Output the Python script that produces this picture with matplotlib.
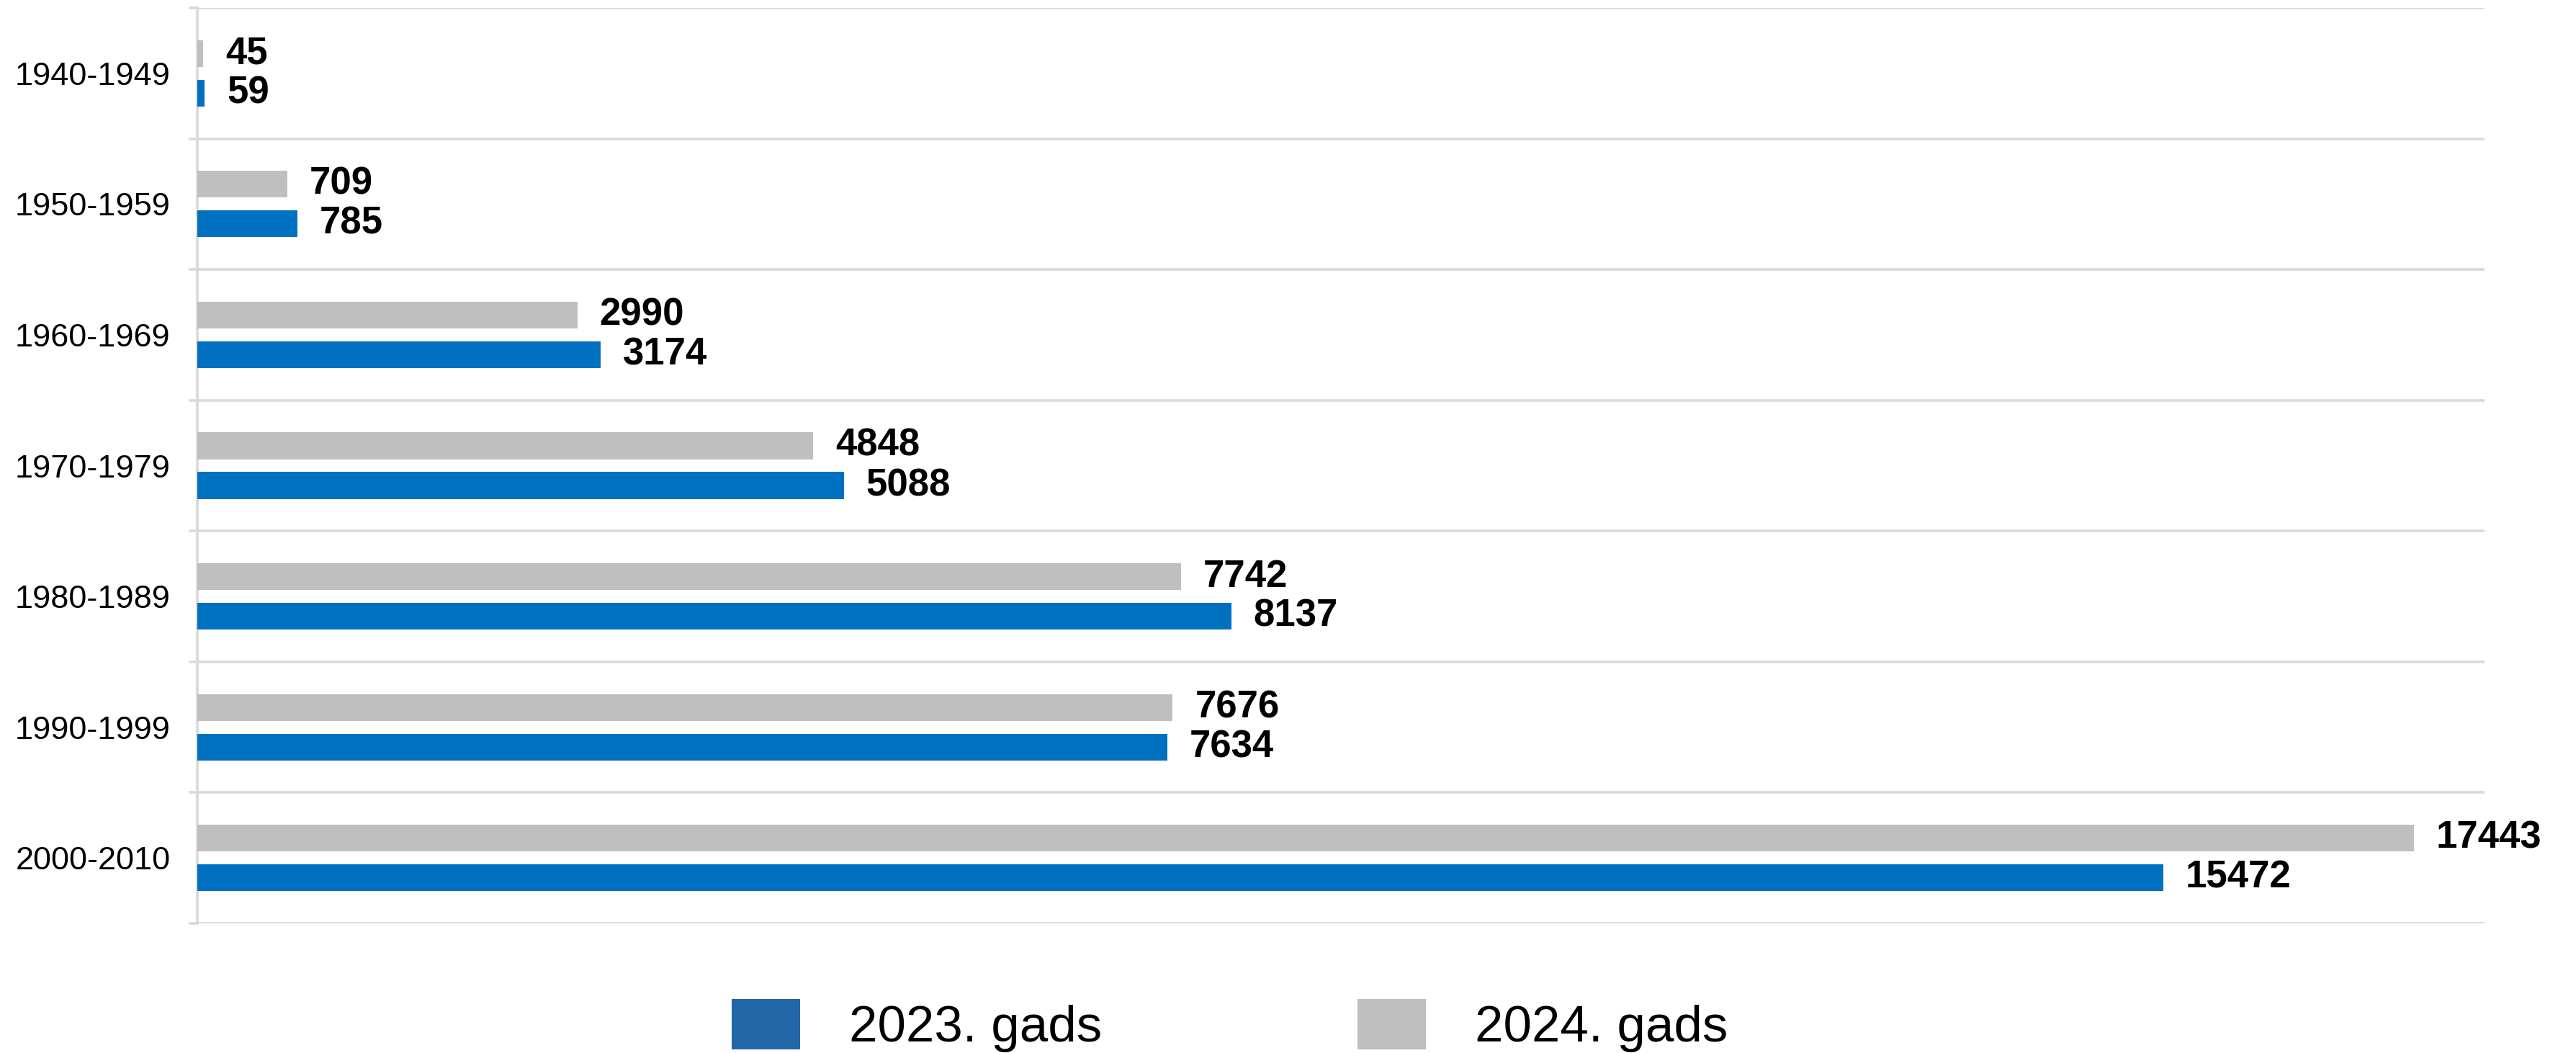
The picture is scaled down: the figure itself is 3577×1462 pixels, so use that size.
import matplotlib
matplotlib.use("Agg")
import matplotlib.pyplot as plt
from matplotlib.patches import Patch
import numpy as np

categories = ["1940-1949", "1950-1959", "1960-1969", "1970-1979", "1980-1989", "1990-1999", "2000-2010"]
values_2023 = [59, 785, 3174, 5088, 8137, 7634, 15472]
values_2024 = [45, 709, 2990, 4848, 7742, 7676, 17443]
series_labels = ["2023. gads", "2024. gads"]

plt.rcParams['font.family'] = ['Liberation Sans', 'DejaVu Sans']

W, H, DPI = 3577, 1462, 100
fig = plt.figure(figsize=(W / DPI, H / DPI), dpi=DPI)
fig.patch.set_facecolor('white')

left, right_px, top_px, bottom_px = 274, 3450, 11, 1282
ax = fig.add_axes([left / W, 1 - bottom_px / H, (right_px - left) / W, (bottom_px - top_px) / H])

blue = '#0070C0'
gray = '#BFBFBF'
grid_c = '#D9D9D9'

y = np.arange(len(categories))
h = 0.204
off = 0.1515
b24 = ax.barh(y - off, values_2024, height=h, color=gray, zorder=3)
b23 = ax.barh(y + off, values_2023, height=h, color=blue, zorder=3)

for rect, v in zip(b24, values_2024):
    ax.annotate(f"{v}", (rect.get_width(), rect.get_y() + rect.get_height() / 2),
                xytext=(22.3, 0), textcoords='offset points', ha='left', va='center',
                fontsize=38, fontweight='bold', color='black')
for rect, v in zip(b23, values_2023):
    ax.annotate(f"{v}", (rect.get_width(), rect.get_y() + rect.get_height() / 2),
                xytext=(22.3, 0), textcoords='offset points', ha='left', va='center',
                fontsize=38, fontweight='bold', color='black')

ax.set_xlim(0, 18000)
ax.set_ylim(len(categories) - 0.5, -0.5)
ax.set_yticks(y)
ax.set_yticklabels(categories, fontsize=32.5)
ax.tick_params(axis='y', which='major', length=0, pad=27)
ax.set_yticks(np.arange(-0.5, len(categories), 1.0), minor=True)
ax.tick_params(axis='y', which='minor', length=9, width=2.6, color=grid_c, direction='out')
ax.grid(axis='y', which='minor', color=grid_c, linewidth=2.6, zorder=0)
ax.grid(axis='y', which='major', visible=False)
ax.set_xticks([])

for s in ['top', 'right', 'bottom']:
    ax.spines[s].set_visible(False)
ax.spines['left'].set_color(grid_c)
ax.spines['left'].set_linewidth(2.6)

handles = [Patch(facecolor='#2166A6', edgecolor='none'), Patch(facecolor=gray, edgecolor='none')]
leg = fig.legend(handles, series_labels, loc='center', bbox_to_anchor=(0.4774, 1 - 1424 / H),
                 ncol=2, frameon=False, fontsize=51, handlelength=1.34, handleheight=1.15,
                 handletextpad=0.96, columnspacing=5.0)

fig.savefig("out.png", dpi=DPI, facecolor='white')
